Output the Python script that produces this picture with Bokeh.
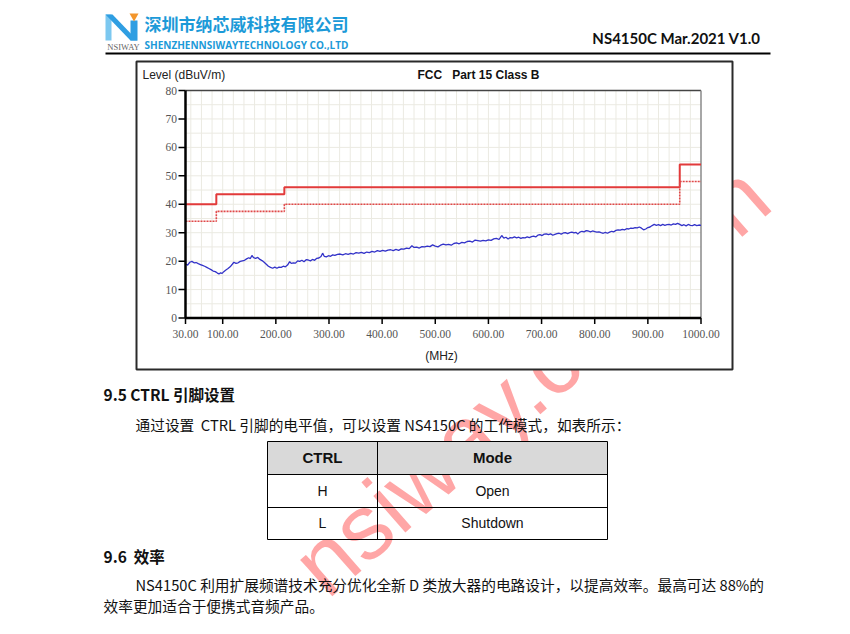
from bokeh.plotting import figure
from bokeh.models import Range1d
from bokeh.core.properties import value
from bokeh.embed import file_html
from bokeh.resources import INLINE

# ---------------- data ----------------
freq_mhz = [30, 34, 38, 42, 46, 50, 54, 58, 62, 66, 70, 74, 78, 82, 86, 90, 93, 96, 99, 102,
            106, 110, 114, 118, 121, 125, 129, 133, 137, 141, 145, 149, 152, 155, 158, 162, 166, 170, 174, 178,
            182, 186, 190, 194, 198, 202, 206, 210, 214, 218, 222, 226, 229, 233, 237, 241, 245, 249, 253, 257,
            261, 265, 269, 273, 277, 281, 285, 288, 291, 295, 299, 303, 307, 311, 316, 321, 326, 331, 336, 341,
            346, 351, 356, 361, 366, 371, 376, 381, 386, 391, 396, 401, 406, 411, 416, 421, 426, 431, 436, 441,
            446, 451, 456, 460, 465, 470, 475, 480, 485, 490, 495, 500, 505, 510, 515, 520, 525, 530, 535, 540,
            545, 550, 555, 560, 565, 570, 575, 580, 585, 590, 595, 600, 605, 610, 615, 620, 625, 629, 633, 637,
            641, 645, 649, 653, 657, 661, 665, 669, 673, 677, 681, 685, 689, 693, 697, 701, 705, 709, 713, 717,
            721, 725, 729, 733, 737, 741, 745, 749, 753, 757, 761, 765, 768, 772, 776, 780, 784, 788, 792, 796,
            800, 804, 808, 812, 816, 820, 824, 828, 832, 836, 840, 844, 848, 852, 856, 860, 864, 868, 872, 876,
            880, 884, 888, 892, 896, 900, 904, 908, 912, 916, 920, 924, 928, 932, 936, 940, 944, 948, 952, 956,
            960, 964, 968, 972, 976, 980, 984, 988, 992, 996, 1000]
level_dbuv = [19.0, 18.6, 19.6, 19.9, 19.4, 19.5, 19.1, 18.8, 18.5, 18.2, 17.8, 17.4, 17.0, 16.5, 16.3, 15.8, 15.5, 15.9, 15.7, 16.3,
              16.9, 17.4, 18.0, 18.9, 19.6, 19.2, 19.4, 19.9, 20.1, 20.3, 20.8, 21.2, 20.9, 22.0, 21.2, 21.0, 21.3, 20.6, 20.2, 19.6,
              18.9, 18.2, 17.8, 17.5, 17.9, 17.5, 17.9, 17.8, 18.2, 18.0, 18.6, 19.8, 19.2, 19.4, 19.3, 20.1, 19.9, 20.3, 19.8, 20.5,
              20.4, 20.1, 20.6, 20.3, 21.0, 21.1, 21.6, 22.8, 21.7, 21.5, 21.9, 21.7, 22.2, 22.0, 22.4, 22.5, 22.2, 22.6, 22.4, 22.7,
              22.5, 23.0, 22.8, 23.1, 22.7, 23.2, 23.0, 23.4, 23.2, 23.7, 23.4, 23.8, 23.5, 23.9, 24.0, 23.7, 24.1, 23.8, 24.3, 24.2,
              24.6, 24.4, 25.4, 24.8, 24.9, 24.6, 25.1, 25.0, 25.3, 25.1, 25.7, 25.3, 25.0, 25.6, 26.0, 25.7, 25.9, 25.6, 26.2, 26.4,
              26.1, 26.6, 26.4, 26.9, 27.0, 26.7, 27.4, 27.2, 27.0, 27.3, 27.1, 27.5, 27.3, 27.8, 28.0, 27.6, 29.0, 28.1, 28.4, 27.8,
              28.3, 28.2, 28.5, 28.2, 28.4, 28.0, 28.3, 28.2, 28.5, 28.3, 28.6, 28.8, 28.5, 29.1, 29.3, 29.0, 29.5, 29.6, 29.3, 29.6,
              29.1, 29.4, 29.7, 29.8, 29.5, 29.9, 30.0, 29.7, 30.0, 30.2, 29.9, 30.1, 29.5, 30.2, 30.5, 30.3, 30.7, 30.6, 30.3, 30.6,
              30.4, 30.2, 30.3, 30.0, 29.8, 30.1, 29.8, 30.2, 30.5, 30.3, 30.8, 31.0, 30.9, 31.2, 31.0, 31.4, 31.3, 31.6, 31.5, 31.8,
              31.7, 32.0, 31.6, 31.0, 31.3, 31.8, 32.0, 32.5, 32.9, 32.6, 32.8, 32.5, 32.9, 32.6, 32.8, 32.9, 32.7, 33.1, 32.9, 33.3,
              32.9, 32.5, 32.8, 32.4, 32.9, 32.6, 32.5, 32.8, 32.5, 32.7, 32.6]

limit_freq = [30, 88, 88, 216, 216, 960, 960, 1000]
limit_level = [40, 40, 43.5, 43.5, 46, 46, 54, 54]
margin_level = [34, 34, 37.5, 37.5, 40, 40, 48, 48]

x_ticks = [30, 100, 200, 300, 400, 500, 600, 700, 800, 900, 1000]
x_tick_labels = ["30.00", "100.00", "200.00", "300.00", "400.00", "500.00",
                 "600.00", "700.00", "800.00", "900.00", "1000.00"]
y_ticks = [0, 10, 20, 30, 40, 50, 60, 70, 80]
y_tick_labels = ["0", "10", "20", "30", "40", "50", "60", "70", "80"]

# ---------------- page geometry ----------------
W, H = 834, 618
PX0, PX1 = 0, 834          # page x covered by the canvas
PY0, PY1 = 0, 618          # page y (top, bottom) covered by the canvas


def Y(y):
    return PY1 - y


CX0, CX1 = 185.0, 700.5    # page x of 30 MHz / 1000 MHz
CY0, CY1 = 317.5, 90.0     # page y of 0 / 80 dBuV/m
F0, F1, L0, L1 = 30.0, 1000.0, 0.0, 80.0
sx = (CX1 - CX0) / (F1 - F0)
sy = (CY0 - CY1) / (L1 - L0)

p = figure(width=W, height=H, x_range=Range1d(PX0, PX1), y_range=Range1d(Y(PY1), Y(PY0)),
           x_axis_type=None, y_axis_type=None, output_backend="svg", toolbar_location=None,
           min_border=0)
p.grid.visible = False
p.outline_line_color = None
p.background_fill_color = "white"
p.border_fill_color = "white"
p.extra_x_ranges = {"f": Range1d(F0 - (CX0 - PX0) / sx, F1 + (PX1 - CX1) / sx)}
p.extra_y_ranges = {"l": Range1d(L0 - (PY1 - CY0) / sy, L1 + (CY1 - PY0) / sy)}
C = dict(x_range_name="f", y_range_name="l")

CJK = "Noto Sans CJK SC"
ARIAL = "Liberation Sans"
NB = "\u00a0"


def txt(x, y, s, size, color="#111111", font=CJK, bold=False, align="left",
        baseline="middle", angle=0.0, alpha=1.0):
    p.text(x=[x], y=[Y(y)], text=[s], text_font=value(font), text_font_size=f"{size}px",
           text_color=color, text_align=align, text_baseline=baseline,
           text_font_style="bold" if bold else "normal", angle=angle, text_alpha=alpha)


# ---------------- watermark (behind everything) ----------------
txt(306, 576, "nsiway.com.cn", 92, color="#ff2a2a", font=ARIAL, angle=0.72, alpha=0.42)

# ---------------- header ----------------
p.patch([105, 111, 111, 105], [Y(40), Y(40), Y(14), Y(14)], fill_color="#7cc8f0", line_color=None)
p.patch([105, 112, 137, 130], [Y(14), Y(14), Y(40), Y(40)], fill_color="#2f9ee2", line_color=None)
p.patch([130, 137, 137, 130], [Y(40), Y(40), Y(20), Y(20)], fill_color="#2f9ee2", line_color=None)
p.patch([129, 138, 133.5], [Y(13), Y(13), Y(21)], fill_color="#f3962c", line_color=None)
txt(123, 46, "NSIWAY", 8.5, color="#666666", font="Liberation Serif", align="center")
txt(144, 23, "深圳市纳芯威科技有限公司", 17, color="#1c9ad8", bold=True)
txt(144, 44, "SHENZHENNSIWAYTECHNOLOGY CO.,LTD", 10, color="#1c9ad8", font="Open Sans", bold=True)
txt(760, 37, "NS4150C Mar.2021 V1.0", 15, color="#111111", font="Lato", bold=True, align="right")
p.line([105, 770], [Y(53), Y(53)], line_color="black", line_width=2)

# ---------------- chart ----------------
p.quad(left=[136], right=[732], top=[Y(61)], bottom=[Y(369)], fill_color="white",
       line_color="#2a2a2a", line_width=2)

gx = list(range(40, 1000, 20))
p.segment(x0=gx, y0=[L0] * len(gx), x1=gx, y1=[L1] * len(gx), line_color="#ebeae2", line_width=1, **C)
gy = list(range(5, 80, 5))
p.segment(x0=[F0] * len(gy), y0=gy, x1=[F1] * len(gy), y1=gy, line_color="#ebeae2", line_width=1, **C)

p.line([F0, F1], [L1, L1], line_color="#444444", line_width=1.5, **C)
p.line([F1, F1], [L0, L1], line_color="#8a8a8a", line_width=1.5, **C)

p.line(limit_freq, limit_level, line_color="#e23a3a", line_width=2, **C)
p.line(limit_freq, margin_level, line_color="#e04848", line_width=1.6, line_dash="2 1", **C)
p.line(freq_mhz, level_dbuv, line_color="#3232c8", line_width=1.3, **C)

p.line([F0, F0], [L0, L1], line_color="black", line_width=2.5, **C)
p.line([F0, F1], [L0, L0], line_color="black", line_width=2.5, **C)

# y ticks / labels
p.segment(x0=[F0 - 7 / sx] * len(y_ticks), y0=y_ticks, x1=[F0] * len(y_ticks), y1=y_ticks,
          line_color="black", line_width=1.5, **C)
p.text(x=[F0 - 8.5 / sx] * len(y_ticks), y=y_ticks, text=y_tick_labels, text_align="right",
       text_baseline="middle", text_font=value("Liberation Serif"), text_font_size="11.5px",
       text_color="#555555", **C)
# x ticks / labels
p.segment(x0=x_ticks, y0=[L0] * len(x_ticks), x1=x_ticks, y1=[L0 - 6 / sy] * len(x_ticks),
          line_color="black", line_width=1.5, **C)
p.text(x=x_ticks, y=[L0 - 16 / sy] * len(x_ticks), text=x_tick_labels, text_align="center",
       text_baseline="middle", text_font=value("Liberation Serif"), text_font_size="11.5px",
       text_color="#555555", **C)

txt(142, 74, "Level (dBuV/m)", 12, color="#222222", font=ARIAL)
txt(478, 74, "FCC" + NB * 3 + "Part 15 Class B", 12, color="#111111", font=ARIAL, bold=True, align="center")
txt(441, 355, "(MHz)", 12, color="#222222", font=ARIAL, align="center")

# ---------------- body text ----------------
txt(103, 393, "9.5 CTRL 引脚设置", 15.5, bold=True)
txt(135, 424, "通过设置" + NB * 2 + "CTRL 引脚的电平值，可以设置 NS4150C 的工作模式，如表所示：", 14.7)

p.quad(left=[267], right=[607], top=[Y(441)], bottom=[Y(474)], fill_color="#d9d9d9", line_color=None)
for yy in [441, 474, 507, 539]:
    p.line([267, 607], [Y(yy), Y(yy)], line_color="black", line_width=1)
for xx in [267, 377, 607]:
    p.line([xx, xx], [Y(441), Y(539)], line_color="black", line_width=1)
txt(322, 457, "CTRL", 15, font=ARIAL, bold=True, align="center")
txt(492, 457, "Mode", 15, font=ARIAL, bold=True, align="center")
txt(322, 490, "H", 14, font=ARIAL, align="center")
txt(492, 490, "Open", 14, font=ARIAL, align="center")
txt(322, 522, "L", 14, font=ARIAL, align="center")
txt(492, 522, "Shutdown", 14, font=ARIAL, align="center")

txt(103, 555, "9.6" + NB * 2 + "效率", 15.5, bold=True)
txt(135, 584, "NS4150C 利用扩展频谱技术充分优化全新 D 类放大器的电路设计，以提高效率。最高可达 88%的", 14.7)
txt(103, 605, "效率更加适合于便携式音频产品。", 14.7)

open("out.html", "w").write(file_html(p, INLINE))
